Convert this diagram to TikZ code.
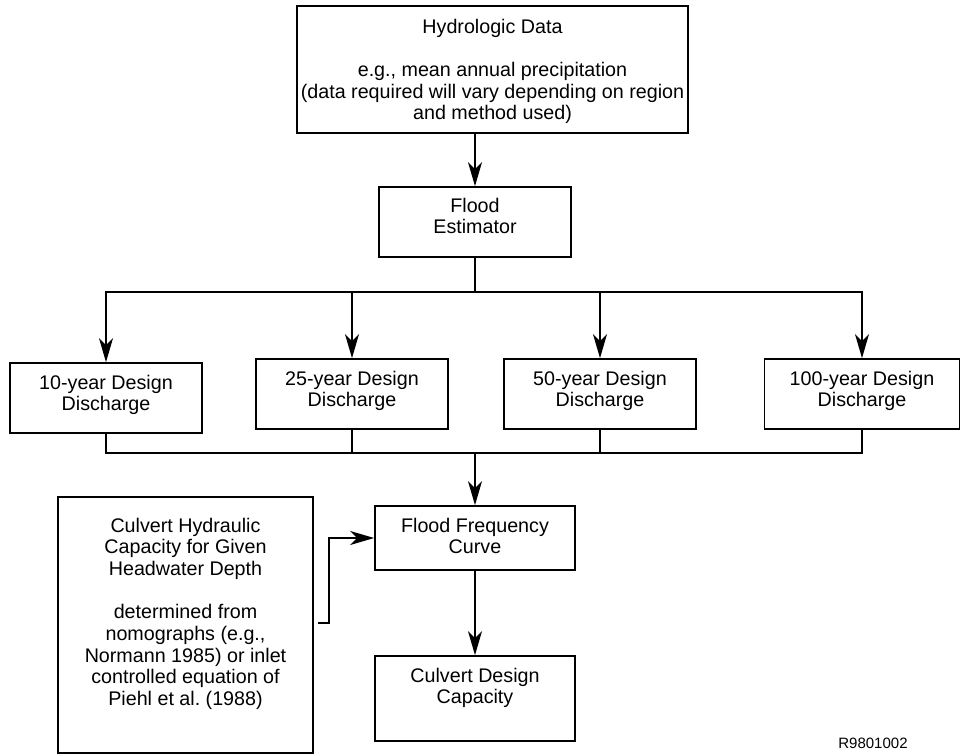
\documentclass[tikz,border=0pt]{standalone}
\usepackage{fontspec}
\setmainfont{Liberation Sans}
\usetikzlibrary{arrows.meta}

\begin{document}
\begin{tikzpicture}[x=1pt,y=-1pt,line width=1.4pt,>={Stealth[length=24pt,width=14pt,inset=7pt]}]
    \useasboundingbox (0,0) rectangle (961,755);
    \begin{scope}[every node/.style={rectangle,draw=black,line width=1.7pt,align=center,inner sep=0pt,text height=47.7pt,font=\fontsize{19.7}{21.7}\selectfont}]
        \node[minimum width=391pt,text height=113.8pt,text depth=13.2pt] (H) at (492.5,69.5) {Hydrologic Data\\[21.7pt]e.g., mean annual precipitation\\(data required will vary depending on region\\and method used)};
        \node[minimum width=192pt,text height=46.7pt,text depth=23.3pt] (FE) at (475,222) {Flood\\Estimator};
        \node[minimum width=192pt,text depth=22.3pt] (D10) at (106,398) {10-year Design\\Discharge};
        \node[minimum width=192pt,text depth=22.3pt] (D25) at (352,394) {25-year Design\\Discharge};
        \node[minimum width=192pt,text depth=22.3pt] (D50) at (600,394) {50-year Design\\Discharge};
        \node[minimum width=195pt,text depth=22.3pt] (D100) at (862,394) {100-year Design\\Discharge};
        \node[minimum width=200pt,text depth=16.3pt] (FFC) at (475,538) {Flood Frequency\\Curve};
        \node[minimum width=200pt,text depth=37.3pt] (CDC) at (475,698.5) {Culvert Design\\Capacity};
        \node[minimum width=255pt,text height=208.6pt,text depth=47.4pt] (HC) at (185.5,625) {Culvert Hydraulic\\Capacity for Given\\Headwater Depth\\[21.7pt]determined from\\nomographs (e.g.,\\Normann 1985) or inlet\\controlled equation of\\Piehl et al.\ (1988)};
        \node[draw=none,text height=,font=\fontsize{15}{17}\selectfont] (R) at (873,743) {R9801002};
    \end{scope}
    \coordinate (split) at (475,292);
    \coordinate (merge) at (475,453);
    \coordinate (HCout) at (318,623);
    \draw[->] (FE.north |- H.south) -- (FE.north);
    \draw (FE.south) -- (split);
    \draw[->] (split) -| (D10.north);
    \draw[->] (split) -| (D100.north);
    \draw[->] (D25.north |- split) -- (D25.north);
    \draw[->] (D50.north |- split) -- (D50.north);
    \draw (D10.south) |- (merge) -| (D100.south);
    \draw (D25.south) -- (D25.south |- merge);
    \draw (D50.south) -- (D50.south |- merge);
    \draw[->] (merge) -- (FFC.north);
    \draw[->] (FFC.south) -- (CDC.north);
    \draw[->] (HCout) -- ++(11,0) |- (FFC.west);
\end{tikzpicture}
\end{document}
